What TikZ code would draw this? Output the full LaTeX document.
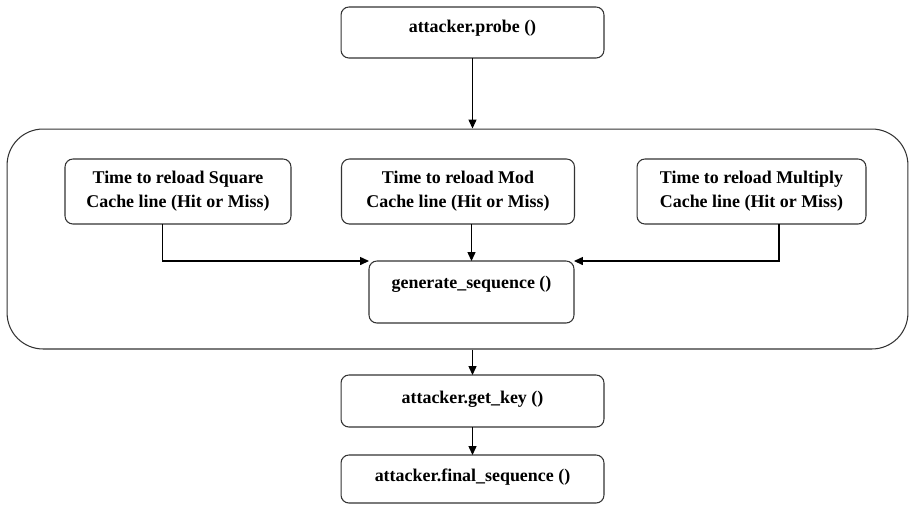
\documentclass[tikz,border=0pt]{standalone}
\usepackage{fontspec}
\setmainfont{Liberation Serif}
\usetikzlibrary{arrows.meta}

\begin{document}
\begin{tikzpicture}[x=0.02cm, y=-0.02cm, line width=0.6pt,
        >={Triangle[length=5pt,width=4.5pt]},
        box/.style={draw=black!80, rounded corners=4.5pt, inner sep=0pt, outer sep=0pt, align=center,
            font=\fontsize{10.2}{13.6}\selectfont\bfseries},
        call/.style={box, text height=7pt, text depth=7pt}]
        \useasboundingbox (0,0) rectangle (910,505);
        \draw
        (457.5,239) node[draw=black!80, rounded corners=0.72cm, minimum width=18.02cm, minimum height=4.4cm] (frame) {}
        (472.5,32.5) node[call, minimum width=5.26cm, minimum height=1.02cm] (probe) {attacker.probe ()}
        (178,191.5) node[box, minimum width=4.52cm, minimum height=1.3cm] (square) {Time to reload Square\\Cache line (Hit or Miss)}
        (458,191.5) node[box, minimum width=4.66cm, minimum height=1.3cm] (mod) {Time to reload Mod\\Cache line (Hit or Miss)}
        (751.5,191.5) node[box, minimum width=4.58cm, minimum height=1.3cm] (multiply) {Time to reload Multiply\\Cache line (Hit or Miss)}
        (471.5,292) node[call, text height=5.5pt, text depth=10pt, minimum width=4.1cm, minimum height=1.24cm] (gen) {generate\_sequence ()}
        (472.5,401) node[call, text height=8pt, text depth=5.7pt, minimum width=5.26cm, minimum height=1.04cm] (getkey) {attacker.get\_key ()}
        (472.5,479) node[call, text height=8pt, text depth=5.7pt, minimum width=5.26cm, minimum height=0.96cm] (final) {attacker.final\_sequence ()}
        ;
        \draw[->] (probe.south) -- (probe.south |- frame.north);
        \draw[->] ([xshift=-0.31cm]square.south) |- (gen.north west);
        \draw[->] (gen.north |- mod.south) -- (gen.north);
        \draw[->] ([xshift=0.55cm]multiply.south) |- (gen.north east);
        \draw[->] (getkey.north |- frame.south) -- (getkey.north);
        \draw[->] (getkey.south) -- (final.north);
\end{tikzpicture}
\end{document}
